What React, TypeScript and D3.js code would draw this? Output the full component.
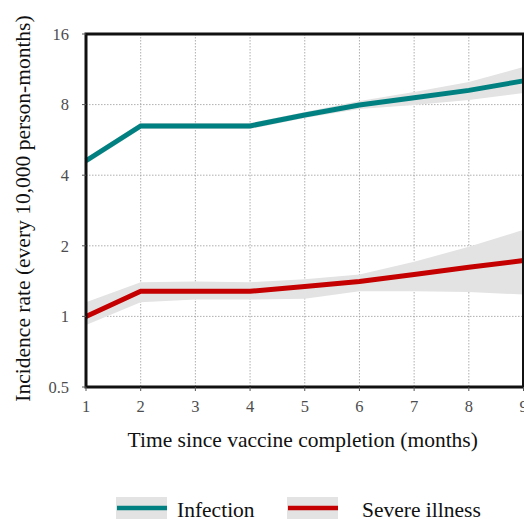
import React from 'react';
import * as d3 from 'd3';

// months since vaccine completion
const months = [1, 2, 3, 4, 5, 6, 7, 8, 9];

// incidence per 10,000 person-months
const infectionRate = [4.61, 6.49, 6.49, 6.49, 7.22, 7.97, 8.55, 9.2, 10.1];
const infectionLower = [4.47, 6.3, 6.3, 6.3, 7.02, 7.66, 7.97, 8.37, 8.96];
const infectionUpper = [4.74, 6.68, 6.68, 6.68, 7.44, 8.29, 9.05, 9.98, 11.56];

const severeRate = [1.0, 1.28, 1.28, 1.28, 1.34, 1.41, 1.51, 1.62, 1.73];
const severeLower = [0.92, 1.15, 1.18, 1.18, 1.19, 1.28, 1.28, 1.27, 1.24];
const severeUpper = [1.15, 1.4, 1.41, 1.4, 1.44, 1.51, 1.71, 1.98, 2.34];

const yTicks = [0.5, 1, 2, 4, 8, 16];
const xTicks = [1, 2, 3, 4, 5, 6, 7, 8, 9];

const seriesNames = ['Infection', 'Severe illness'];
const seriesColors = ['#008080', '#c40000'];

const W = 524;
const H = 519;
const left = 86;
const right = 523.5;
const top = 34;
const bottom = 387;
const font = '"Liberation Serif", "Times New Roman", serif';

const App: React.FC = () => {
    const x = d3.scaleLinear().domain([1, 9]).range([left, right]);
    const y = d3.scaleLog().base(2).domain([0.5, 16]).range([bottom, top]);

    const line = d3.line<number>()
        .x((_, i) => x(months[i]))
        .y(d => y(d));

    const band = (lo: number[], hi: number[]) =>
        d3.area<number>()
            .x(d => x(d))
            .y0((_, i) => y(lo[i]))
            .y1((_, i) => y(hi[i]))(months) as string;

    const series = [
        { rate: infectionRate, lo: infectionLower, hi: infectionUpper },
        { rate: severeRate, lo: severeLower, hi: severeUpper },
    ];

    return (
        <svg width={W} height={H} style={{ position: 'absolute', left: 0, top: 0 }}>
            <rect width={W} height={H} fill="#fff" />

            {/* grid */}
            {xTicks.slice(1, -1).map(t => (
                <line key={'gx' + t} x1={x(t)} x2={x(t)} y1={top} y2={bottom}
                    stroke="#9a9a9a" strokeWidth={0.8} strokeDasharray="1.5,1.5" />
            ))}
            {yTicks.slice(1, -1).map(t => (
                <line key={'gy' + t} x1={left} x2={right} y1={y(t)} y2={y(t)}
                    stroke="#9a9a9a" strokeWidth={0.8} strokeDasharray="1.5,1.5" />
            ))}

            {/* confidence bands */}
            {series.map((s, i) => (
                <path key={'b' + i} d={band(s.lo, s.hi)} fill="#e3e3e3" />
            ))}

            {/* lines */}
            {series.map((s, i) => (
                <path key={'l' + i} d={line(s.rate) as string} fill="none"
                    stroke={seriesColors[i]} strokeWidth={5} strokeLinejoin="miter" />
            ))}

            {/* panel border */}
            <rect x={left} y={top} width={right - left} height={bottom - top}
                fill="none" stroke="#111" strokeWidth={3} />

            {/* x axis ticks and labels */}
            {xTicks.map(t => (
                <g key={'xt' + t}>
                    <line x1={x(t)} x2={x(t)} y1={bottom} y2={bottom + 4} stroke="#555" strokeWidth={1} />
                    <text x={x(t)} y={412} textAnchor="middle" fontFamily={font}
                        fontSize={16.5} fill="#4d4d4d">{t}</text>
                </g>
            ))}

            {/* y axis ticks and labels */}
            {yTicks.map(t => (
                <g key={'yt' + t}>
                    <line x1={left - 4} x2={left} y1={y(t)} y2={y(t)} stroke="#555" strokeWidth={1} />
                    <text x={69} y={y(t)} dy="0.35em" textAnchor="end" fontFamily={font}
                        fontSize={16.5} fill="#4d4d4d">{t}</text>
                </g>
            ))}

            <text x={(left + right) / 2 - 2} y={447} textAnchor="middle" fontFamily={font}
                fontSize={21.5} fill="#111">Time since vaccine completion (months)</text>
            <text transform={`translate(30,${(top + bottom) / 2 - 2}) rotate(-90)`} textAnchor="middle"
                fontFamily={font} fontSize={21.5} fill="#111">
                Incidence rate (every 10,000 person-months)
            </text>

            {/* legend */}
            {seriesNames.map((name, i) => {
                const kx = i === 0 ? 116 : 287;
                const tx = i === 0 ? 177 : 362;
                return (
                    <g key={'lg' + i}>
                        <rect x={kx} y={497} width={51} height={24} fill="#e3e3e3" />
                        <line x1={kx + 1} x2={kx + 51} y1={508} y2={508}
                            stroke={seriesColors[i]} strokeWidth={4.5} />
                        <text x={tx} y={517} fontFamily={font} fontSize={21.5} fill="#111">{name}</text>
                    </g>
                );
            })}
        </svg>
    );
};

export default App;
